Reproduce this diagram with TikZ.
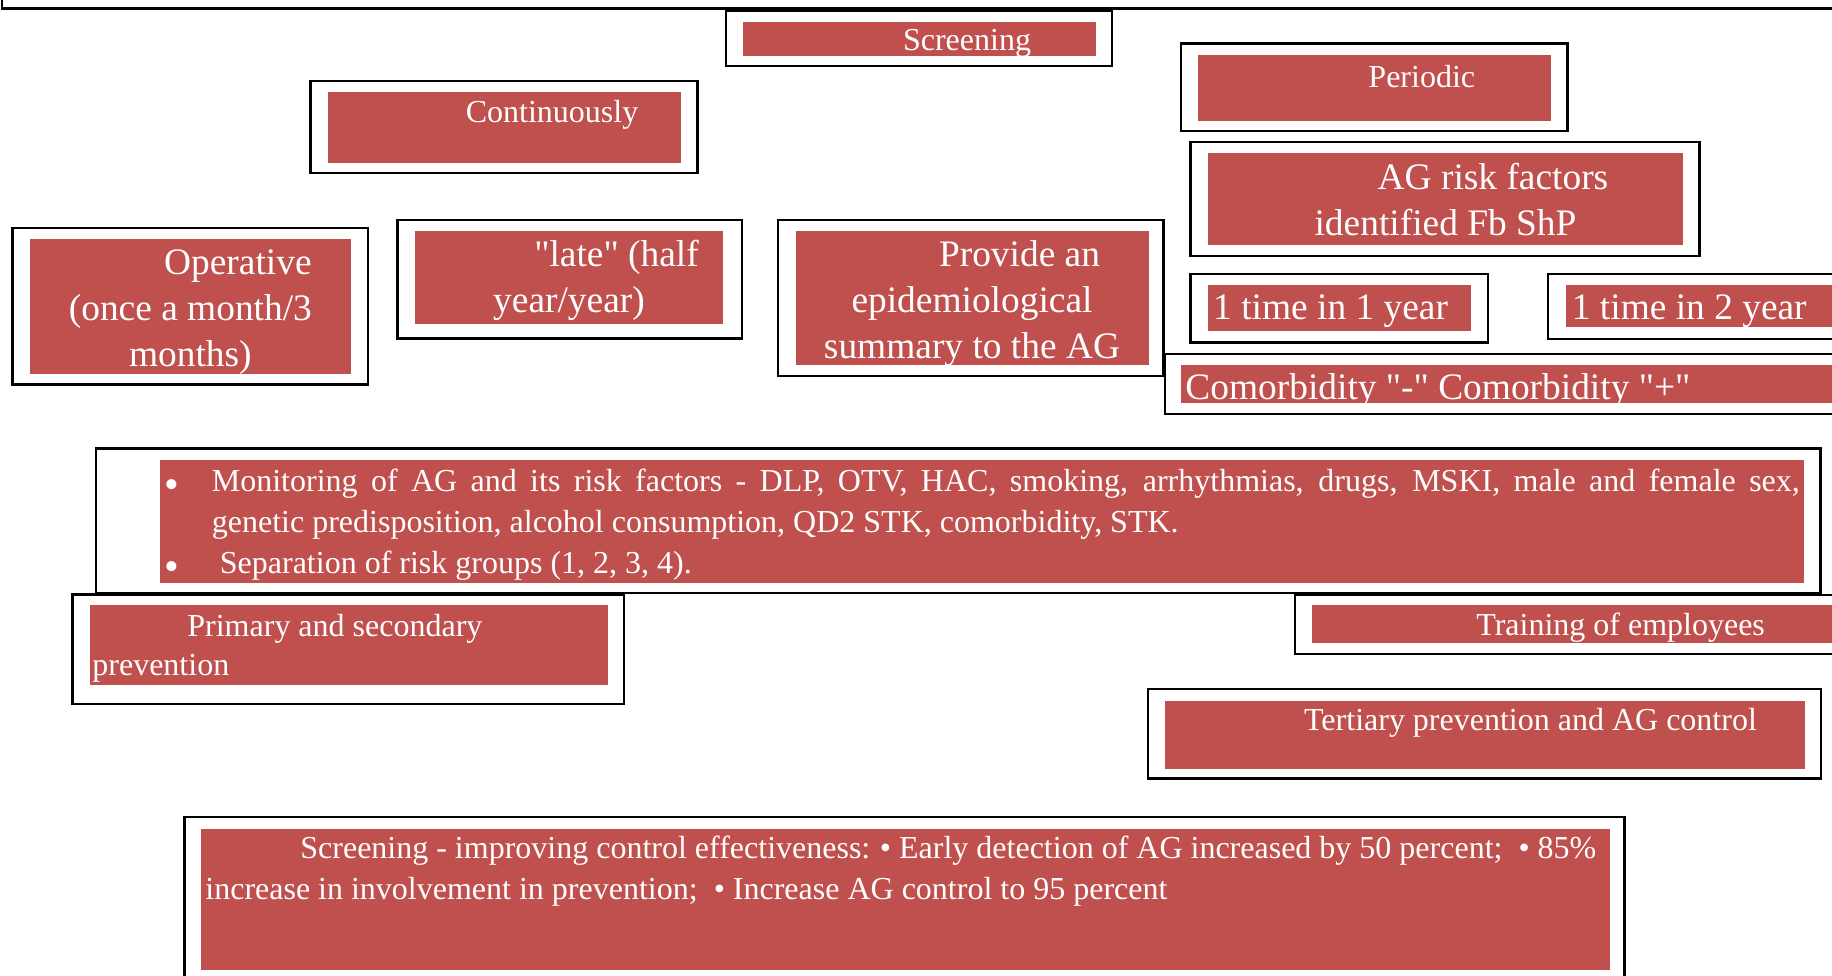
\documentclass[tikz,border=0pt]{standalone}
\usepackage{fontspec}
\setmainfont{Liberation Serif}[Ligatures=TeXOff]
\usepackage{tikz}
\definecolor{boxred}{RGB}{192,80,77}
\newcommand{\firstind}{\hspace*{47.5pt}}
\newcommand{\bigbul}{\raisebox{-3.5pt}{\fontsize{21}{0}\selectfont\textbullet}}
\newcommand{\normsp}{\spaceskip=0.25em\xspaceskip=0.3em\relax}

\begin{document}
\begin{tikzpicture}[x=0.5pt, y=-0.5pt,
  frame/.style={draw=black, line width=1.2pt},
  redbox/.style={fill=boxred},
  bigtxt/.style={text=white, inner sep=0pt, font=\fontsize{18.7}{22.8}\selectfont},
  bigpara/.style={text=white, inner sep=0pt, anchor=base, align=center,
    font=\fontsize{18.7}{23}\selectfont},
  smalltxt/.style={text=white, inner sep=0pt, font=\fontsize{16}{20.5}\selectfont}]
\useasboundingbox (0,0) rectangle (1832,975);
\clip (0,0) rectangle (1832,975);
\fill[white] (0,0) rectangle (1832,975);
\draw[frame] (2,-40) rectangle (1900,8.5);

\draw[frame] (725.8,10.5) rectangle (1112,66);
\fill[redbox] (743,21.5) rectangle (1096,55.5);
\node[smalltxt, anchor=base] (scrtop) at (919.5,50) {\firstind Screening};

\draw[frame] (1181,43.5) rectangle (1567.5,131);
\fill[redbox] (1198,55) rectangle (1550.7,120.5);
\node[smalltxt, anchor=base] (periodic) at (1374.3,87) {\firstind Periodic};

\draw[frame] (310.5,81) rectangle (697.5,173);
\fill[redbox] (328,92) rectangle (681,162.5);
\node[smalltxt, anchor=base] (contin) at (504.5,122.5) {\firstind Continuously};

\draw[frame] (1190.5,142) rectangle (1699.5,256);
\fill[redbox] (1208,153.3) rectangle (1683,245);
\node[bigpara, text width=400pt] (riskfac) at (1445.5,189)
  {\normsp\firstind AG risk factors\\identified Fb ShP};

\draw[frame] (12.5,227.7) rectangle (368,384.5);
\fill[redbox] (30,239) rectangle (350.7,373.5);
\node[bigpara, text width=300pt] (operative) at (190.4,274.5)
  {\normsp\firstind Operative\\(once a month/3\\months)};

\draw[frame] (397.5,220) rectangle (741.7,338.3);
\fill[redbox] (414.9,231) rectangle (723.3,323.7);
\node[bigpara, text width=300pt] (late) at (569,266.2)
  {\normsp\firstind "late" (half\\year/year)};

\draw[frame] (778,220) rectangle (1163.6,375.7);
\fill[redbox] (795.5,231) rectangle (1148.7,365);
\node[bigpara, text width=300pt] (summary) at (972,266.2)
  {\normsp\firstind Provide an\\epidemiological\\summary to the AG};

\draw[frame] (1190.5,274) rectangle (1487.7,342.5);
\fill[redbox] (1208,285) rectangle (1471,330.7);
\node[bigtxt, anchor=base west] (oneyear) at (1212.8,319.5) {1 time in 1 year};

\draw[frame] (1548,274) rectangle (1900,339);
\fill[redbox] (1566,285) rectangle (1900,326.7);
\node[bigtxt, anchor=base west] (twoyear) at (1571.5,319.5) {1 time in 2 year};

\draw[frame] (1165,354) rectangle (1900,414);
\fill[redbox] (1181,365) rectangle (1900,402.7);
\node[bigtxt, anchor=base west] (comorb) at (1185,399.5) {Comorbidity "-" Comorbidity "+"};

\draw[frame] (96,448.5) rectangle (1820.5,593);
\fill[redbox] (160,460) rectangle (1804,583);
\node[smalltxt, anchor=base west, text width=794pt, align=justify] (monitor) at (211.5,491.5)
  {\noindent\llap{\bigbul\hspace{16.5pt}}Monitoring of AG and its risk factors - DLP, OTV, HAC, smoking, arrhythmias, drugs, MSKI, male and female sex,\linebreak genetic predisposition, alcohol consumption, QD2 STK, comorbidity, STK.\par
   \noindent\llap{\bigbul\hspace{16.5pt}}\hspace*{4pt}Separation of risk groups (1, 2, 3, 4).};

\draw[frame] (72.4,594.5) rectangle (623.9,704);
\fill[redbox] (89.8,605) rectangle (608,684.5);
\node[smalltxt, anchor=base west, text width=300pt, align=left,
  font=\fontsize{16}{19.5}\selectfont] (prevent) at (92,636)
  {\normsp\firstind Primary and secondary\\prevention};

\draw[frame] (1294.7,595) rectangle (1900,654);
\fill[redbox] (1312.4,605) rectangle (1834,642.7);
\node[smalltxt, anchor=base] (training) at (1573.1,635.5) {\firstind Training of employees};

\draw[frame] (1148,689) rectangle (1821,778.5);
\fill[redbox] (1165,701) rectangle (1805,768.5);
\node[smalltxt, anchor=base] (tertiary) at (1483,730.5) {\firstind Tertiary prevention and AG control};

\draw[frame] (184.5,816.7) rectangle (1624.5,1100);
\fill[redbox] (201,829) rectangle (1610,970);
\node[smalltxt, anchor=base west, text width=780pt, align=left,
  font=\fontsize{16}{20.5}\selectfont] (effect) at (205,858)
  {\normsp\firstind Screening - improving control effectiveness: \textbullet{} Early detection of AG increased by 50 percent;\ \ \textbullet{} 85\%\\increase in involvement in prevention;\ \ \textbullet{} Increase AG control to 95 percent};
\end{tikzpicture}
\end{document}
